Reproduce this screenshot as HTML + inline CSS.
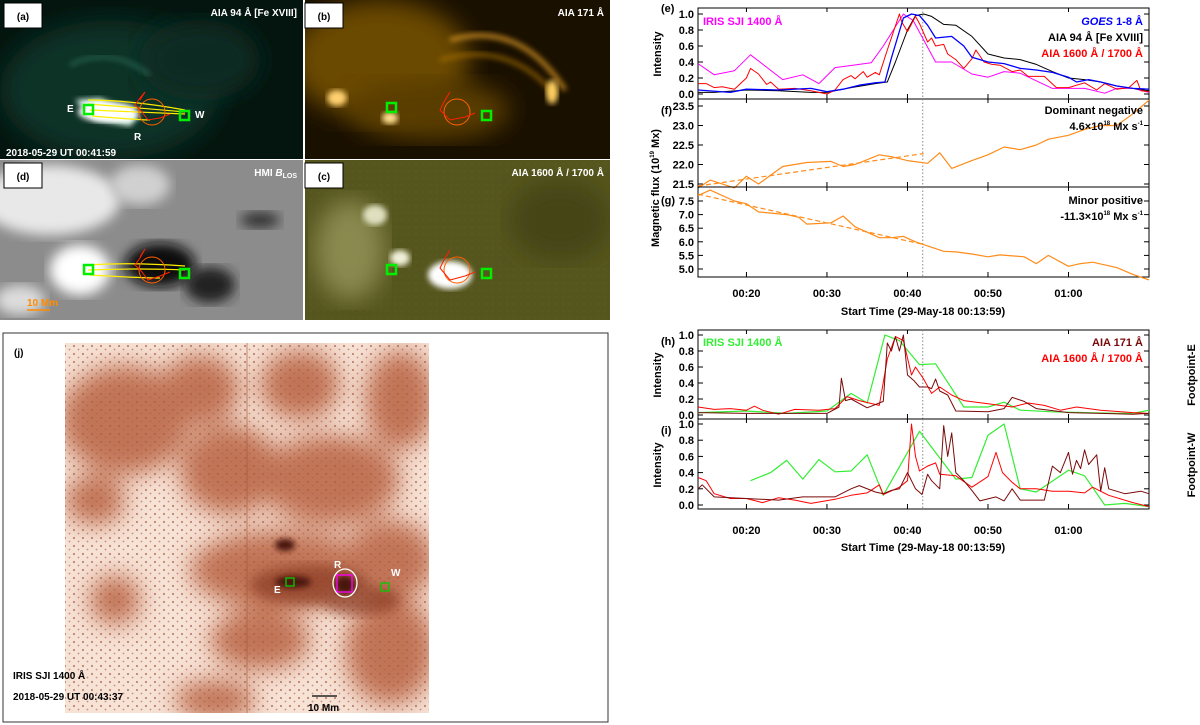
<!DOCTYPE html>
<html><head><meta charset="utf-8">
<style>
html,body{margin:0;padding:0;background:#fff;}
svg{display:block;font-family:"Liberation Sans",sans-serif;}
.lbl{font-weight:bold;}
</style></head>
<body>
<svg id="fig" width="1200" height="725" viewBox="0 0 1200 725">
<defs>
<filter id="blur3"><feGaussianBlur stdDeviation="3"/></filter>
<filter id="blur6"><feGaussianBlur stdDeviation="6"/></filter>
<filter id="blur12"><feGaussianBlur stdDeviation="12"/></filter>
<clipPath id="cA"><rect x="0" y="0" width="303" height="159"/></clipPath>
<clipPath id="cB"><rect x="305" y="0" width="305" height="159"/></clipPath>
<clipPath id="cD"><rect x="0" y="160" width="303" height="160"/></clipPath>
<clipPath id="cC"><rect x="305" y="160" width="305" height="160"/></clipPath>
<clipPath id="cJ"><rect x="65" y="343" width="364" height="370"/></clipPath>
<pattern id="speck" width="9" height="8" patternUnits="userSpaceOnUse">
<circle cx="2" cy="2" r="1.1" fill="#9a4a2c"/><circle cx="6.5" cy="5.5" r="0.9" fill="#a8563a"/>
</pattern>
<pattern id="speck2" width="7" height="7" patternUnits="userSpaceOnUse">
<circle cx="3" cy="3" r="1.3" fill="#5a5a20"/>
</pattern>
</defs>

<!-- Panel a -->
<g clip-path="url(#cA)">
<rect x="0" y="0" width="303" height="159" fill="#04150f"/>
<ellipse cx="110" cy="90" rx="110" ry="70" fill="#0b3226" filter="url(#blur12)"/>
<ellipse cx="200" cy="60" rx="60" ry="40" fill="#0a2a20" filter="url(#blur12)"/>
<path d="M70 65 Q110 45 150 75" stroke="#2a6a55" stroke-width="3" fill="none" filter="url(#blur3)"/>
<path d="M75 100 L100 98 L140 115 L130 126 L95 120 Z" fill="#e8fff4" filter="url(#blur3)"/>
<ellipse cx="108" cy="112" rx="30" ry="10" fill="#ffffff" filter="url(#blur3)"/>
</g>
<!-- Panel b -->
<g clip-path="url(#cB)">
<rect x="305" y="0" width="305" height="159" fill="#1a1000"/>
<ellipse cx="380" cy="60" rx="90" ry="60" fill="#6a4a05" filter="url(#blur12)"/>
<ellipse cx="430" cy="110" rx="80" ry="30" fill="#5a3d05" filter="url(#blur12)"/>
<path d="M450 40 Q520 20 565 90" stroke="#d09020" stroke-width="4" fill="none" filter="url(#blur3)"/>
<path d="M440 60 Q510 40 555 95" stroke="#a87010" stroke-width="3" fill="none" filter="url(#blur3)"/>
<ellipse cx="337" cy="98" rx="10" ry="8" fill="#ffd070" filter="url(#blur3)"/>
<ellipse cx="390" cy="118" rx="8" ry="6" fill="#ffe090" filter="url(#blur3)"/>
<ellipse cx="552" cy="92" rx="6" ry="12" fill="#ffd060" filter="url(#blur3)"/>
</g>
<!-- Panel d -->
<g clip-path="url(#cD)">
<rect x="0" y="160" width="303" height="160" fill="#8c8c8c"/>
<ellipse cx="50" cy="200" rx="70" ry="35" fill="#e8e8e8" filter="url(#blur6)"/>
<ellipse cx="80" cy="270" rx="30" ry="25" fill="#ffffff" filter="url(#blur6)"/>
<ellipse cx="140" cy="185" rx="30" ry="20" fill="#d0d0d0" filter="url(#blur6)"/>
<ellipse cx="160" cy="265" rx="35" ry="22" fill="#111" filter="url(#blur6)"/>
<ellipse cx="210" cy="285" rx="25" ry="18" fill="#222" filter="url(#blur6)"/>
<ellipse cx="260" cy="220" rx="20" ry="8" fill="#333" filter="url(#blur6)"/>
<ellipse cx="20" cy="300" rx="25" ry="15" fill="#dcdcdc" filter="url(#blur6)"/>
</g>
<!-- Panel c -->
<g clip-path="url(#cC)">
<rect x="305" y="160" width="305" height="160" fill="#55551e"/>
<rect x="305" y="160" width="305" height="160" fill="url(#speck2)" opacity="0.5"/>
<ellipse cx="350" cy="250" rx="35" ry="50" fill="#8a8a50" filter="url(#blur12)"/>
<ellipse cx="375" cy="215" rx="12" ry="10" fill="#e0e0c0" filter="url(#blur3)"/>
<ellipse cx="400" cy="258" rx="10" ry="8" fill="#f0f0d8" filter="url(#blur3)"/>
<ellipse cx="450" cy="275" rx="22" ry="14" fill="#ffffff" filter="url(#blur3)"/>
<ellipse cx="560" cy="220" rx="50" ry="40" fill="#454515" filter="url(#blur12)"/>
</g>

<!-- overlays on a,b,c,d -->
<g fill="none">
<g stroke="#ffee00" stroke-width="1.2">
<path d="M88 100 Q130 100 185 110"/><path d="M88 104 Q140 108 185 112"/><path d="M90 110 Q140 112 185 114"/><path d="M92 116 Q140 120 150 120"/>
<path d="M88 265 Q130 262 185 266"/><path d="M88 270 Q140 268 185 270"/><path d="M90 275 Q140 278 160 278"/>
</g>
<g stroke="#ff2000" stroke-width="1">
<circle cx="152" cy="112" r="13" stroke="#ff6000"/>
<path d="M140 100 L145 92 L140 98 L135 105 L142 112 L148 120 L160 118 L170 114"/>
<circle cx="457" cy="112" r="13" stroke="#ff6000"/>
<path d="M445 100 L450 92 L444 102 L440 110 L450 120 L465 117 L475 113"/>
<circle cx="152" cy="270" r="13" stroke="#ff6000"/>
<path d="M140 257 L145 249 L140 258 L135 265 L142 272 L148 280 L160 276 L170 272"/>
<circle cx="457" cy="270" r="13" stroke="#ff6000"/>
<path d="M445 258 L450 250 L444 260 L440 268 L450 280 L465 276 L475 272"/>
</g>
<g stroke="#00ee00" stroke-width="2.5">
<rect x="84" y="105" width="9" height="9"/><rect x="180" y="111" width="9" height="9"/>
<rect x="387" y="103" width="9" height="9"/><rect x="482" y="111" width="9" height="9"/>
<rect x="84" y="265" width="9" height="9"/><rect x="180" y="269" width="9" height="9"/>
<rect x="387" y="265" width="9" height="9"/><rect x="482" y="269" width="9" height="9"/>
</g>
<line x1="27" y1="310" x2="50" y2="310" stroke="#ff8c00" stroke-width="1.5"/>
</g>
<g class="lbl" fill="#fff" font-size="10">
<text x="297" y="16" text-anchor="end">AIA 94 Å [Fe XVIII]</text>
<text x="604" y="16" text-anchor="end">AIA 171 Å</text>
<text x="297" y="176" text-anchor="end">HMI <tspan font-style="italic">B</tspan><tspan font-size="7" dy="2">LOS</tspan></text>
<text x="604" y="176" text-anchor="end">AIA 1600 Å / 1700 Å</text>
<text x="6" y="156">2018-05-29 UT 00:41:59</text>
<text x="67" y="112">E</text><text x="195" y="118">W</text><text x="134" y="140">R</text>
<text x="27" y="306" fill="#ff8c00">10 Mm</text>
</g>
<g font-size="10" class="lbl">
<rect x="4" y="3" width="38" height="25" fill="#fff" stroke="#000"/><text x="23" y="20" text-anchor="middle">(a)</text>
<rect x="305" y="3" width="38" height="25" fill="#fff" stroke="#000"/><text x="324" y="20" text-anchor="middle">(b)</text>
<rect x="4" y="163" width="38" height="25" fill="#fff" stroke="#000"/><text x="23" y="180" text-anchor="middle">(d)</text>
<rect x="305" y="163" width="38" height="25" fill="#fff" stroke="#000"/><text x="324" y="180" text-anchor="middle">(c)</text>
</g>

<!-- Panel j -->
<rect x="3" y="333" width="605" height="389" fill="#fff" stroke="#333" stroke-width="1"/>
<g clip-path="url(#cJ)">
<rect x="65" y="343" width="364" height="370" fill="#f7e2d6"/>
<rect x="65" y="343" width="364" height="370" fill="url(#speck)" opacity="0.6"/>
<g fill="#b45a38" filter="url(#blur12)" opacity="0.8">
<ellipse cx="125" cy="420" rx="65" ry="55"/>
<ellipse cx="200" cy="390" rx="40" ry="35"/>
<ellipse cx="300" cy="385" rx="40" ry="35"/>
<ellipse cx="400" cy="400" rx="35" ry="50"/>
<ellipse cx="230" cy="470" rx="50" ry="45"/>
<ellipse cx="330" cy="480" rx="70" ry="45"/>
<ellipse cx="280" cy="570" rx="90" ry="40"/>
<ellipse cx="390" cy="560" rx="45" ry="40"/>
<ellipse cx="390" cy="650" rx="45" ry="55"/>
<ellipse cx="260" cy="640" rx="50" ry="30"/>
<ellipse cx="215" cy="700" rx="40" ry="20"/>
<ellipse cx="95" cy="500" rx="30" ry="25"/>
<ellipse cx="115" cy="600" rx="25" ry="25"/>
</g>
<g fill="#8a3a22" filter="url(#blur6)" opacity="0.7">
<ellipse cx="310" cy="585" rx="60" ry="20"/>
<ellipse cx="360" cy="600" rx="40" ry="15"/>
</g>
<g fill="#4a1508" filter="url(#blur3)">
<ellipse cx="293" cy="582" rx="18" ry="6"/><ellipse cx="345" cy="585" rx="10" ry="9"/><ellipse cx="285" cy="545" rx="10" ry="6"/>
</g>
<line x1="247" y1="343" x2="247" y2="713" stroke="#a05030" stroke-width="0.6"/>
</g>
<g>
<rect x="286" y="578" width="8" height="8" fill="none" stroke="#00cc00" stroke-width="1.3"/>
<rect x="381" y="583" width="8" height="8" fill="none" stroke="#00cc00" stroke-width="1.3"/>
<rect x="337" y="575" width="15" height="17" fill="none" stroke="#ff00ff" stroke-width="1.3"/>
<ellipse cx="345" cy="583" rx="12" ry="14" fill="none" stroke="#fff" stroke-width="1.3"/>
<line x1="312" y1="696" x2="337" y2="696" stroke="#000" stroke-width="1.3"/>
<g class="lbl" font-size="10">
<text x="14" y="356">(j)</text>
<text x="274" y="593" fill="#fff">E</text><text x="334" y="568" fill="#fff">R</text><text x="391" y="576" fill="#fff">W</text>
<text x="13" y="679">IRIS SJI 1400 Å</text>
<text x="13" y="700">2018-05-29 UT 00:43:37</text>
<text x="308" y="711">10 Mm</text>
</g>
</g>

<g id="charts"></g>
</svg>
<script>
const eIris=[[14,0.38],[16,0.24],[18.5,0.29],[20.5,0.49],[24.5,0.18],[27,0.24],[29,0.13],[31,0.33],[35.5,0.39],[37,0.6],[39.5,1.0],[40.7,0.92],[43.5,0.4],[45.5,0.4],[48,0.25],[50,0.21],[52,0.28],[54,0.26],[58,0.07],[62,0.07],[64.5,0.01],[66,0.07],[68,0.07],[70,0.02]];
const eAia94=[[14,0.02],[16,0.02],[20,0.05],[24,0.04],[28,0.02],[30,0.02],[33,0.08],[36,0.13],[37.5,0.15],[38.5,0.4],[40,0.8],[41,0.98],[42,1.0],[43,0.97],[44.5,0.87],[46,0.86],[48,0.72],[50,0.5],[52,0.45],[54,0.43],[56,0.37],[58,0.28],[60,0.2],[62,0.18],[64,0.15],[66,0.1],[68,0.07],[70,0.04]];
const eGoes=[[14,0.05],[18,0.02],[20,0.06],[24,0.05],[28,0.07],[30,0.03],[32,0.06],[34,0.11],[36,0.14],[37.2,0.15],[38,0.45],[39.5,0.95],[40.5,1.0],[41.5,0.98],[42.5,0.86],[43.5,0.7],[45.5,0.72],[47,0.6],[48,0.46],[50,0.4],[52,0.38],[54,0.32],[56,0.3],[58,0.27],[60,0.21],[61,0.15],[62.5,0.18],[64,0.15],[66,0.1],[68,0.07],[70,0.06]];
const eAia1600=[[14,0.13],[15,0.13],[16,0.08],[17,0.09],[18.5,0.06],[20,0.2],[20.5,0.32],[21.5,0.25],[22.5,0.12],[23,0.15],[24,0.06],[26,0.07],[28,0.04],[30,0.0],[31,0.05],[32,0.18],[33,0.23],[33.5,0.19],[34.5,0.28],[35,0.21],[36,0.27],[36.5,0.24],[37.5,0.55],[39,1.0],[39.3,0.9],[40,0.78],[41,0.97],[41.5,0.88],[42.5,0.65],[43,0.7],[43.5,0.6],[44.5,0.62],[45,0.5],[46,0.43],[47,0.32],[48,0.44],[48.5,0.55],[49.5,0.4],[50.5,0.37],[51.5,0.36],[53,0.28],[54,0.3],[55,0.22],[57,0.22],[58.5,0.08],[60,0.08],[62,0.14],[63.5,0.05],[64.5,0.13],[66,0.06],[67.5,0.08],[68.5,0.17],[69,0.04],[70,0.03]];
const fNeg=[[14,21.4],[15.5,21.6],[18.5,21.4],[20,21.7],[21.5,21.5],[24.5,21.95],[27.5,22.05],[30.5,22.08],[32,21.95],[33.5,22.0],[36.5,22.25],[38,22.2],[40,22.1],[42.5,22.03],[44,22.3],[45.5,21.9],[48,22.1],[50,22.25],[52,22.45],[54,22.38],[56,22.5],[57.5,22.65],[60,22.75],[62,22.9],[64,23.0],[66,23.0],[68,23.3],[70,23.65]];
const fFit=[[14,21.45],[42,22.28]];
const gPos=[[14,7.7],[15.5,7.9],[18.5,7.5],[20,7.4],[21.5,7.1],[25,7.0],[26.5,6.9],[27.5,6.65],[30.5,6.7],[32,6.95],[33.5,6.55],[36.5,6.15],[38,6.15],[39.5,6.2],[41,6.0],[42.5,5.85],[44.5,5.65],[46,5.63],[48,5.55],[50,5.45],[51.5,5.52],[54.5,5.45],[56,5.2],[57.5,5.5],[60,5.1],[61.5,5.2],[63,5.25],[66,5.05],[68,4.8],[70,4.6]];
const gFit=[[14,7.75],[42,5.9]];
const hIris=[[14,0.03],[20,0.05],[25,0.02],[30,0.05],[33,0.27],[35,0.15],[37.2,1.0],[39,0.93],[41.5,0.63],[43.5,0.64],[47,0.1],[50,0.1],[52,0.16],[54,0.06],[58,0.04],[62,0.03],[66,0.02],[68,0.02],[70,0.06]];
const hAia171=[[14,0.03],[20,0.02],[25,0.02],[30,0.02],[31.5,0.1],[31.8,0.46],[32.3,0.18],[33,0.2],[35,0.09],[37,0.17],[37.5,0.9],[38,0.8],[38.5,0.98],[39,0.8],[39.5,1.0],[40,0.5],[40.8,0.43],[41.5,0.35],[42.5,0.35],[43,0.33],[43.5,0.45],[44,0.3],[45,0.25],[46,0.05],[50,0.04],[52,0.08],[53,0.22],[54.5,0.17],[56,0.08],[60,0.03],[64,0.02],[68,0.01],[70,0.02]];
const hAia1600=[[14,0.1],[16,0.07],[18,0.08],[20,0.06],[21,0.11],[22,0.06],[24,0.01],[26,0.07],[29,0.06],[31,0.08],[32.5,0.23],[34,0.18],[36.5,0.12],[37.5,0.7],[38.5,0.98],[39.5,0.93],[40.5,0.5],[41,0.6],[42,0.45],[43,0.27],[44,0.35],[45.5,0.25],[47,0.18],[50,0.14],[53,0.1],[55,0.15],[57,0.12],[59,0.06],[61,0.1],[64,0.06],[68,0.03],[70,0.02]];
const iIris=[[20.5,0.3],[23,0.4],[25,0.55],[27,0.32],[29,0.56],[31,0.41],[33,0.42],[35,0.62],[37,0.12],[41.5,0.91],[46,0.32],[48,0.34],[50,0.86],[52,1.0],[54,0.2],[56,0.16],[60,0.43],[62,0.36],[64.5,0.0],[67,0.02],[70,-0.02]];
const iAia171=[[14,0.2],[14.5,0.25],[16,0.1],[20,0.08],[24,0.06],[27,0.1],[31,0.1],[33,0.2],[34,0.24],[36,0.16],[37,0.14],[38,0.18],[39,0.2],[40,0.4],[41,0.2],[41.8,0.13],[42.5,0.38],[43,0.3],[44,0.2],[44.5,0.98],[45,0.6],[45.5,0.89],[46,0.4],[47,0.3],[48,0.18],[49,0.05],[51,0.1],[52,0.05],[53,0.2],[54,0.06],[57,0.06],[58,0.48],[59,0.4],[60,0.65],[60.5,0.38],[61,0.55],[61.5,0.45],[62,0.68],[62.5,0.5],[63.5,0.62],[64,0.17],[64.5,0.46],[65,0.2],[67,0.14],[69,0.17],[70,0.14]];
const iAia1600=[[14,0.34],[15,0.3],[16,0.14],[18,0.08],[20,0.08],[22,0.03],[24,0.09],[26,0.06],[28,0.02],[31,0.07],[33,0.12],[35,0.15],[36.5,0.25],[37,0.13],[39,0.22],[40,0.3],[40.5,1.0],[41,0.6],[41.5,0.42],[42.5,0.48],[43.5,0.52],[44,0.38],[46,0.36],[48,0.22],[50,0.35],[51,0.65],[51.8,0.4],[53,0.28],[54,0.2],[56,0.2],[58,0.17],[60,0.17],[62,0.15],[63,0.22],[65,0.12],[68,0.03],[70,-0.02]];
const intTicks=[0,0.2,0.4,0.6,0.8,1.0];
const negTicks=[21.5,22.0,22.5,23.0,23.5];
const posTicks=[5.0,5.5,6.0,6.5,7.0,7.5];
const timeTicks=[20,30,40,50,60];
const timeLabels=["00:20","00:30","00:40","00:50","01:00"];
const markerTime=41.9;

const NS="http://www.w3.org/2000/svg";
const root=document.getElementById('charts');
const X0=698,X1=1149,T0=13.983,T1=70;
function xs(t){return X0+(t-T0)*(X1-X0)/(T1-T0);}
function mk(tag,attrs,parent){const e=document.createElementNS(NS,tag);for(const k in attrs)e.setAttribute(k,attrs[k]);(parent||root).appendChild(e);return e;}
function yScale(v0,p0,v1,p1){return v=>p0+(v-v0)*(p1-p0)/(v1-v0);}
function panel(name,top,bot,ys,ticks,fmt){
  const g=mk('g',{});
  
  
  const fr=mk('rect',{x:X0,y:top,width:X1-X0,height:bot-top,fill:'none',stroke:'#000','stroke-width':1},g);
  
  
  ticks.forEach(v=>{const y=ys(v);
    mk('line',{x1:X0,x2:X0+5,y1:y,y2:y,stroke:'#000'},g);
    mk('line',{x1:X1,x2:X1-5,y1:y,y2:y,stroke:'#000'},g);
    const t=mk('text',{x:X0-4,y:y+4,'text-anchor':'end','font-size':11,'font-weight':'bold'},g);t.textContent=fmt(v);
    
    });
  timeTicks.forEach(tt=>{const x=xs(tt);
    mk('line',{x1:x,x2:x,y1:bot,y2:bot-5,stroke:'#000'},g);mk('line',{x1:x,x2:x,y1:top,y2:top+4,stroke:'#000'},g);});
  mk('line',{x1:xs(markerTime),x2:xs(markerTime),y1:top,y2:bot,stroke:'#888','stroke-dasharray':'1.5,2'},g);
  return g;
}
function line(g,data,ys,color,name,w,dash){
  const d=data.map((p,i)=>(i?'L':'M')+xs(p[0]).toFixed(1)+' '+ys(p[1]).toFixed(1)).join(' ');
  const p=mk('path',{d:d,fill:'none',stroke:color,'stroke-width':w||1,'stroke-linejoin':'round'},g);
  if(dash)p.setAttribute('stroke-dasharray',dash);
  
  
}
function txt(g,x,y,s,color,anchor,name){const t=mk('text',{x:x,y:y,fill:color,'text-anchor':anchor||'start','font-size':11,'font-weight':'bold'},g);t.innerHTML=s;
  
  return t;}
const f1=v=>v.toFixed(1);
// e
const ye=yScale(0,94,1,14);
const ge=panel('panel-e',8,99,ye,intTicks,f1);
line(ge,eIris,ye,'#ff00ff','series-iris-1400');
line(ge,eAia94,ye,'#000','series-aia94');
line(ge,eAia1600,ye,'#ff0000','series-aia1600');
line(ge,eGoes,ye,'#0000ff','series-goes',1.3);
txt(ge,703,25,'IRIS SJI 1400 Å','#ff00ff','start','legend-iris');
txt(ge,1143,25,'<tspan font-style="italic">GOES</tspan> 1-8 Å','#0000ff','end','legend-goes');
txt(ge,1143,41,'AIA 94 Å [Fe XVIII]','#000','end','legend-aia94');
txt(ge,1143,57,'AIA 1600 Å / 1700 Å','#ff0000','end','legend-aia1600');
txt(ge,661,12,'(e)','#000','start','panel-e-tag');
// f
const yf=yScale(21.5,184,23.5,106);
const gf=panel('panel-f',99,187,yf,negTicks,f1);
line(gf,fNeg,yf,'#ff8c1a','series-neg-flux',1.2);
line(gf,fFit,yf,'#ff8c1a','fit-neg-flux',1.2,'5,3');
txt(gf,1143,114,'Dominant negative','#000','end','annot-neg');
txt(gf,1143,130,'4.6×10<tspan font-size="6" dy="-5">18</tspan><tspan dy="5"> Mx s</tspan><tspan font-size="6" dy="-5">-1</tspan>','#000','end','annot-neg-rate');
txt(gf,661,114,'(f)','#000','start','panel-f-tag');
// g
const yg=yScale(7.5,201,5.0,269);
const gg=panel('panel-g',187,277,yg,posTicks,f1);
line(gg,gPos,yg,'#ff8c1a','series-pos-flux',1.2);
line(gg,gFit,yg,'#ff8c1a','fit-pos-flux',1.2,'5,3');
txt(gg,1143,204,'Minor positive','#000','end','annot-pos');
txt(gg,1143,220,'-11.3×10<tspan font-size="6" dy="-5">18</tspan><tspan dy="5"> Mx s</tspan><tspan font-size="6" dy="-5">-1</tspan>','#000','end','annot-pos-rate');
txt(gg,661,204,'(g)','#000','start','panel-g-tag');
timeTicks.forEach((tt,i)=>txt(gg,xs(tt),297,timeLabels[i],'#000','middle','x-tick-label'));
txt(gg,923,315,'Start Time (29-May-18 00:13:59)','#000','middle','x-axis-title');
const yt=mk('text',{x:0,y:0,'font-size':11,'font-weight':'bold','text-anchor':'middle',transform:'translate(659,188) rotate(-90)'});
yt.innerHTML='Magnetic flux (10<tspan font-size="6" dy="-5">19</tspan><tspan dy="5"> Mx)</tspan>';


const yi1=mk('text',{x:0,y:0,'font-size':11,'font-weight':'bold','text-anchor':'middle',transform:'translate(661,54) rotate(-90)'});yi1.textContent='Intensity';


// h
const yh=yScale(0,415,1,335);
const gh=panel('panel-h',330,419,yh,intTicks,f1);
line(gh,hIris,yh,'#33ee33','series-h-iris',1.2);
line(gh,hAia1600,yh,'#ff0000','series-h-aia1600');
line(gh,hAia171,yh,'#7a0a0a','series-h-aia171');
txt(gh,703,346,'IRIS SJI 1400 Å','#33ee33','start','legend-h-iris');
txt(gh,1143,346,'AIA 171 Å','#7a0a0a','end','legend-h-aia171');
txt(gh,1143,362,'AIA 1600 Å / 1700 Å','#ff0000','end','legend-h-aia1600');
txt(gh,661,345,'(h)','#000','start','panel-h-tag');
// i
const yi=yScale(0,505,1,424);
const gi=panel('panel-i',419,509,yi,intTicks,f1);
line(gi,iIris,yi,'#33ee33','series-i-iris',1.2);
line(gi,iAia1600,yi,'#ff0000','series-i-aia1600');
line(gi,iAia171,yi,'#7a0a0a','series-i-aia171');
txt(gi,661,434,'(i)','#000','start','panel-i-tag');
timeTicks.forEach((tt,i)=>txt(gi,xs(tt),534,timeLabels[i],'#000','middle','x-tick-label-lower'));
txt(gi,923,551,'Start Time (29-May-18 00:13:59)','#000','middle','x-axis-title-lower');
[[375,'Intensity','y-axis-title-h',661],[465,'Intensity','y-axis-title-i',661],[375,'Footpoint-E','side-label-e',1195],[465,'Footpoint-W','side-label-w',1195]].forEach(a=>{
  const t=mk('text',{x:0,y:0,'font-size':11,'font-weight':'bold','text-anchor':'middle',transform:'translate('+a[3]+','+a[0]+') rotate(-90)'});t.textContent=a[1];
  
  });
</script>
</body></html>
